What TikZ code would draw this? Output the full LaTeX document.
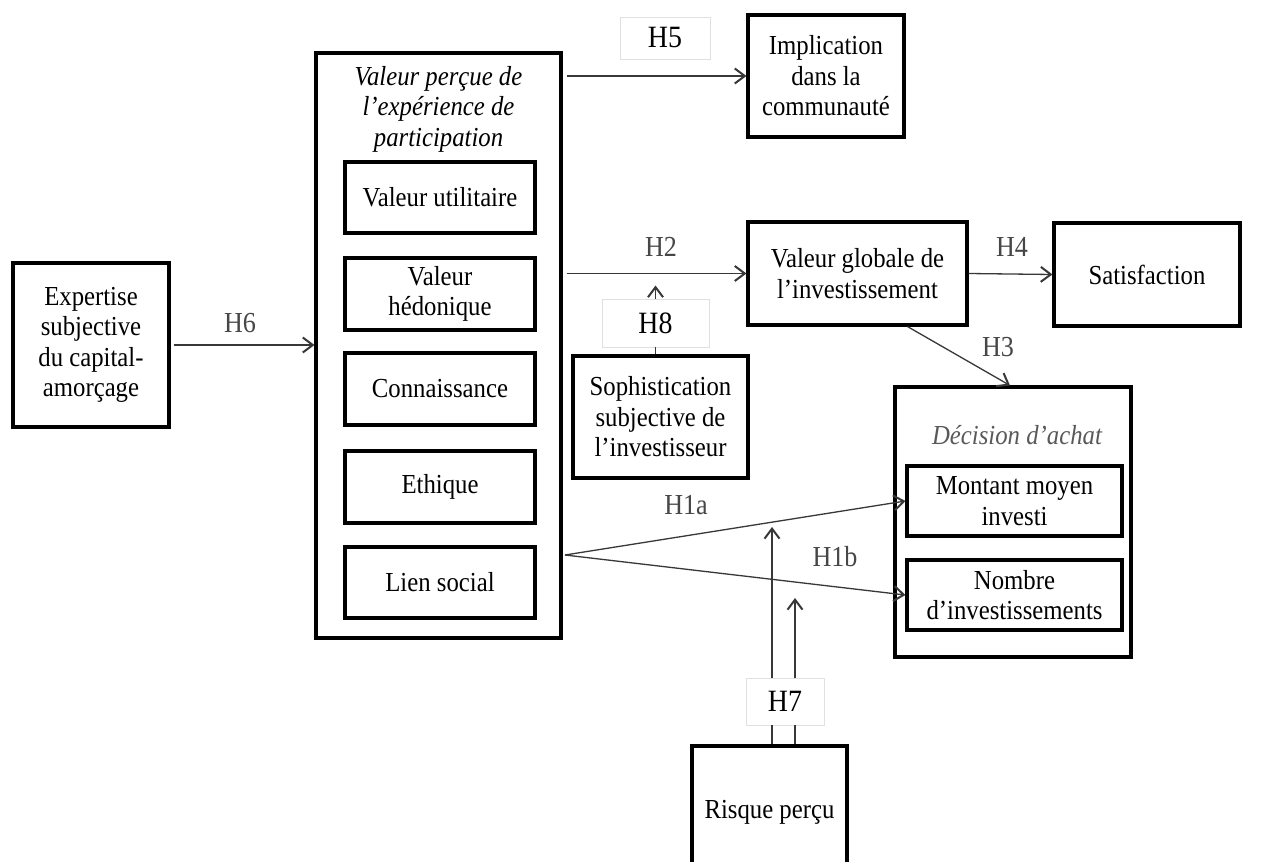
\documentclass[tikz,border=0pt]{standalone}
\usepackage{fontspec}
\setmainfont{Liberation Serif}[FakeStretch=0.9]
\usetikzlibrary{arrows.meta,calc}
\newcommand\fsbody{\fontsize{27.5}{30.5}\selectfont}
\newcommand\fslab{\fontsize{29}{32}\selectfont}
\newcommand\fshb{\fontsize{31}{34}\selectfont}
\tikzset{
  box/.style={draw=black, line width=3.1pt, align=center, inner sep=0pt, font=\fsbody},
  txt/.style={align=center, inner sep=0pt, font=\fsbody},
  lab/.style={inner sep=0pt, text=black!72, font=\fslab},
  hbox/.style={draw=black!12, line width=0.9pt, fill=white, inner sep=0pt, font=\fshb},
  arr/.style={draw=black!78, line width=1.3pt, -{Straight Barb[length=10pt,width=15pt,line width=2pt]}},
  ln/.style={draw=black!78, line width=1.3pt},
}
\begin{document}
\begin{tikzpicture}[x=1pt,y=1pt]
\useasboundingbox (0,0) rectangle (1275,-862);
\clip (0,0) rectangle (1275,-862);
\fill[white] (0,0) rectangle (1275,-862);

% left box
\node[box, minimum width=156pt, minimum height=164pt] (exp) at (91,-345)
  {Expertise\\subjective\\du capital-\\amorçage};

% big box
\node[box, minimum width=245pt, minimum height=585pt] (vp) at (438.5,-345.5) {};
\node[txt, font=\fsbody\itshape] (vpt) at (438.5,-109) {Valeur perçue de\\l’expérience de\\participation};
\node[box, minimum width=190pt, minimum height=71pt] (vu) at (440,-197.5) {Valeur utilitaire};
\node[box, minimum width=190pt, minimum height=72pt] (vh) at (440,-294) {Valeur\\hédonique};
\node[box, minimum width=190pt, minimum height=72pt] (co) at (440,-389) {Connaissance};
\node[box, minimum width=190pt, minimum height=72pt] (et) at (440,-487) {Ethique};
\node[box, minimum width=190pt, minimum height=71pt] (ls) at (440,-582.5) {Lien social};

% right side
\node[box, minimum width=156pt, minimum height=122pt] (impl) at (826,-76) {Implication\\dans la\\communauté};
\node[box, minimum width=219pt, minimum height=103pt] (vg) at (857.5,-273.5) {Valeur globale de\\l’investissement};
\node[box, minimum width=186pt, minimum height=103pt] (sat) at (1147,-274.5) {Satisfaction};
\node[box, minimum width=175pt, minimum height=122pt] (soph) at (660.5,-417) {Sophistication\\subjective de\\l’investisseur};

\node[box, minimum width=236pt, minimum height=270pt] (dec) at (1013,-522) {};
\node[txt, text=black!65, font=\fsbody\itshape] (dect) at (1017,-435) {Décision d’achat};
\node[box, minimum width=215pt, minimum height=70pt] (mont) at (1014.5,-501) {Montant moyen\\investi};
\node[box, minimum width=215pt, minimum height=70pt] (nomb) at (1014.5,-595) {Nombre\\d’investissements};

\node[box, minimum width=155pt, minimum height=132pt] (risk) at (769.5,-812) {Risque perçu};

% hypothesis boxes
\node[hbox, minimum width=90pt, minimum height=42pt] (h5) at (665,-38) {H5};
\node[hbox, minimum width=107pt, minimum height=48pt] (h8) at (655.5,-323) {H8};
\node[hbox, minimum width=78pt, minimum height=47pt] (h7) at (785,-701.5) {H7};

% connectors
\draw[arr, shorten <=3pt] (exp.east) -- (exp.east -| vp.west);
\draw[arr, shorten <=4pt] (impl.west -| vp.east) -- (impl.west);
\draw[arr, shorten <=4pt] (vg.west -| vp.east) -- (vg.west);
\draw[arr] (vg.east) -- (sat.west);
\draw[arr] ([xshift=50pt]vg.south) -- ([xshift=-3pt]dec.north);

\draw[ln] (soph.north -| h8.south) -- (h8.south);
\draw[arr, shorten >=12pt] (h8.north) -- (h8.north |- vg.west);

\coordinate (src) at (565,-555);
\draw[arr] (src) -- (mont.west);
\draw[arr] (src) -- (nomb.west);

\coordinate (t1) at (772,-527);
\coordinate (t2) at (795,-598);
\draw[ln] (risk.north -| t1) -- (h7.south -| t1);
\draw[arr] (h7.north -| t1) -- (t1);
\draw[ln] (risk.north -| t2) -- (h7.south -| t2);
\draw[arr] (h7.north -| t2) -- (t2);

% labels
\node[lab] (l6) at (240,-323) {H6};
\node[lab] (l2) at (661,-247) {H2};
\node[lab] (l4) at (1012,-247) {H4};
\node[lab] (l3) at (998,-347) {H3};
\node[lab] (l1a) at (686,-505) {H1a};
\node[lab] (l1b) at (835,-557) {H1b};
\end{tikzpicture}
\end{document}
